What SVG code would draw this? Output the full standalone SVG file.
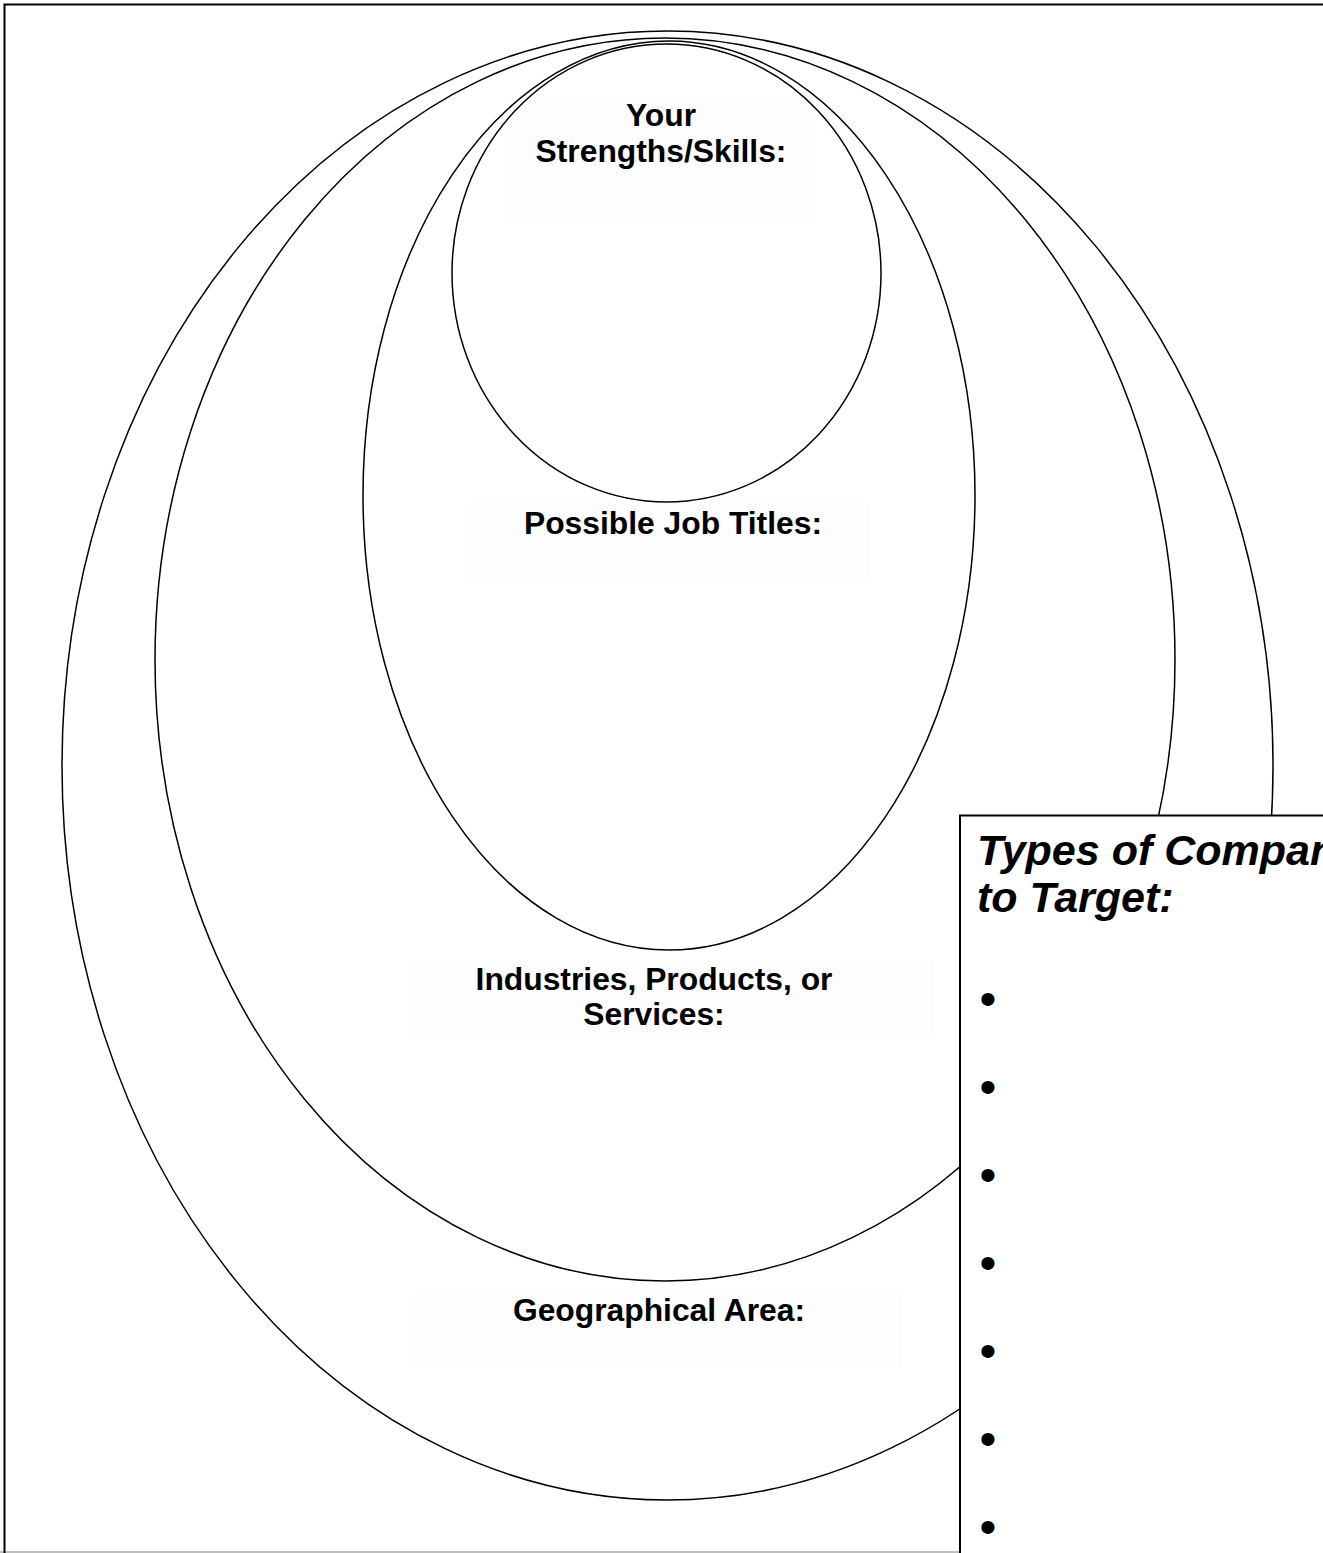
<svg xmlns="http://www.w3.org/2000/svg" width="1323" height="1553" viewBox="0 0 1323 1553">
  <style>
    .ring { fill: none; stroke: #000; stroke-width: 1.5; }
    .label { font-family: "Liberation Sans", Arial, sans-serif; font-weight: bold; font-size: 31.8px; fill: #000; text-anchor: middle; }
    .pad { fill: #000; fill-opacity: 0.009; }
    .title { font-family: "Liberation Sans", Arial, sans-serif; font-weight: bold; font-style: italic; font-size: 43px; fill: #000; }
    .bullet { font-family: "Liberation Sans", Arial, sans-serif; font-size: 48px; fill: #000; text-anchor: middle; }
  </style>

  <!-- page -->
  <rect x="0" y="0" width="1323" height="1553" fill="#fff"/>
  <line x1="0" y1="1552" x2="960" y2="1552" stroke="#a8a8a8" stroke-width="1.5"/>
  <path d="M4.5 1553 V4.5 H1323" fill="none" stroke="#000" stroke-width="2"/>

  <!-- nested target rings, outermost first -->
  <g id="geographical-area">
    <ellipse class="ring" cx="667.5" cy="765.5" rx="605.5" ry="734.5"/>
    <rect class="pad" x="415" y="1290" width="488" height="78"/>
    <text class="label" x="659" y="1321">Geographical Area:</text>
  </g>

  <g id="industries">
    <ellipse class="ring" cx="665" cy="659.5" rx="510" ry="621.5"/>
    <rect class="pad" x="412" y="960" width="523" height="78"/>
    <text class="label" x="654" y="990">Industries, Products, or</text>
    <text class="label" x="654" y="1025">Services:</text>
  </g>

  <g id="job-titles">
    <ellipse class="ring" cx="669" cy="495.5" rx="306" ry="454.5"/>
    <rect class="pad" x="470" y="503" width="400" height="78"/>
    <text class="label" x="673" y="534">Possible Job Titles:</text>
  </g>

  <g id="strengths">
    <ellipse class="ring" cx="666.5" cy="273" rx="214.5" ry="229"/>
    <rect class="pad" x="508" y="97" width="305" height="125"/>
    <text class="label" x="661" y="126">Your</text>
    <text class="label" x="661" y="162">Strengths/Skills:</text>
  </g>

  <!-- company list panel, running off the page edge -->
  <g id="company-types">
    <rect x="960" y="815.5" width="420" height="800" fill="#fff" stroke="#000" stroke-width="2"/>
    <text class="title" x="977" y="865">Types of Companies</text>
    <text class="title" x="977" y="912">to Target:</text>
    <text class="bullet" x="988" y="1015">•</text>
    <text class="bullet" x="988" y="1103">•</text>
    <text class="bullet" x="988" y="1191">•</text>
    <text class="bullet" x="988" y="1279">•</text>
    <text class="bullet" x="988" y="1367">•</text>
    <text class="bullet" x="988" y="1455">•</text>
    <text class="bullet" x="988" y="1543">•</text>
  </g>

  <g id="connectors"></g>
</svg>
